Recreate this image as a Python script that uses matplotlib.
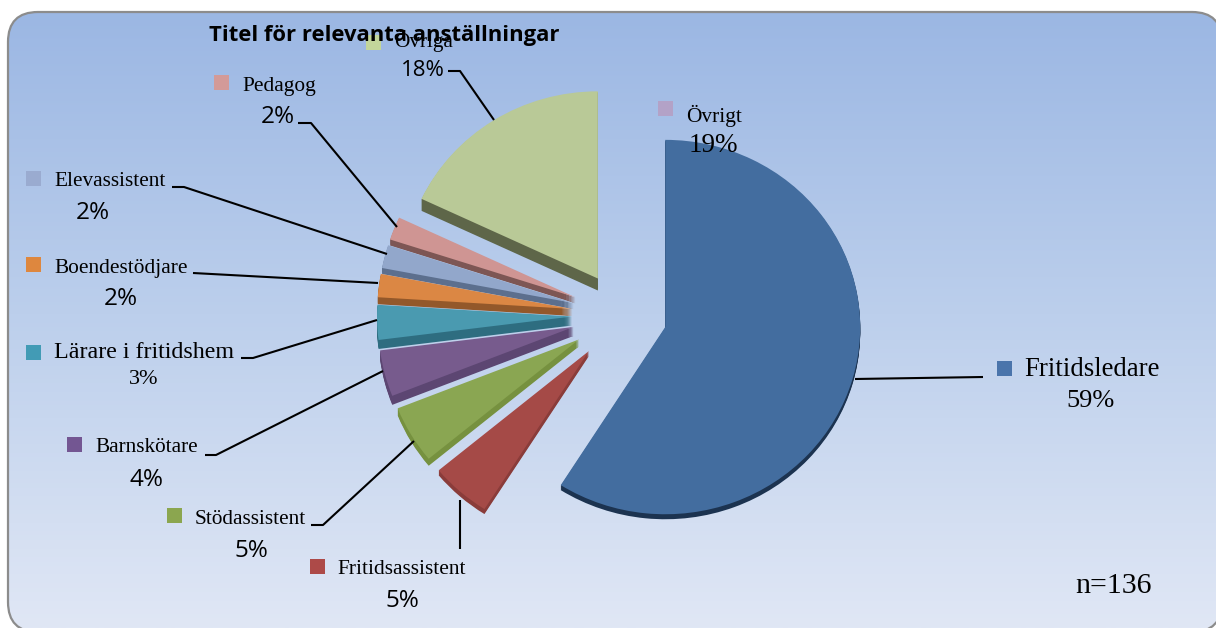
import numpy as np
import matplotlib
matplotlib.use("Agg")
import matplotlib.pyplot as plt
from matplotlib.patches import FancyBboxPatch, Polygon, Rectangle
from matplotlib.transforms import Affine2D

W, H = 1216, 628

# data
categories = ["Fritidsledare", "Fritidsassistent", "Stödassistent", "Barnskötare",
              "Lärare i fritidshem", "Boendestödjare", "Elevassistent", "Pedagog", "Övriga"]
values = [59, 5, 5, 4, 3, 2, 2, 2, 18]
extra_label = "Övrigt"
extra_value = 19
n_text = "n=136"
title = "Titel för relevanta anställningar"

# styles
top_colors = ["#436d9f", "#a54a47", "#8aa652", "#775b8d", "#4a9ab0", "#db8744", "#92a7cb", "#cf9593", "#b9c997"]
side_colors = ["#1c3350", "#8a3c3a", "#76913f", "#5c4672", "#2e6d80", "#93582a", "#5c6f8e", "#7d5654", "#5e6649"]
key_colors = ["#4a74ab", "#ad4a48", "#8ba64f", "#735692", "#429bb5", "#de873e", "#9aabd0", "#d39a98", "#c3d69b"]
depths = [5, 5, 7, 9, 9, 7, 6, 6, 12]

# label layout in pixels, y from the top: key x, key y, text x, text y, pct x, pct y, pct font, text size, pct size
layout = [
    (997, 361, 1024, 369, 1091, 401, "serif", 19.3, 19),
    (310, 559, 337, 569, 402, 601, "sans", 15.4, 17.5),
    (167, 508, 195, 519, 251, 551, "sans", 15.3, 17.5),
    (67, 437, 95, 448, 146, 480, "sans", 15.3, 17.5),
    (26, 345, 54, 353, 144, 380, "serif", 17.3, 16),
    (26, 257, 54, 268, 121, 299, "sans", 15.4, 17.5),
    (26, 171, 54, 182, 93, 213, "sans", 15.3, 17.5),
    (214, 75, 242, 86, 278, 117, "sans", 15.4, 17.5),
    (366, 35, 394, 41, 423, 71, "sans", 15.3, 16),
]
leaders = [
    [(855, 379), (983, 377)],
    [(460, 500), (460, 549)],
    [(311, 525), (323, 525), (414, 441)],
    [(205, 455), (216, 455), (383, 371)],
    [(241, 358), (253, 358), (377, 320)],
    [(193, 273), (378, 283)],
    [(172, 187), (184, 187), (387, 254)],
    [(298, 123), (311, 123), (397, 227)],
    [(448, 71), (460, 71), (494, 120)],
]

SERIF = "Liberation Serif"
SANS = "Open Sans"


def fy(py):
    return H - py


fig = plt.figure(figsize=(W / 100, H / 100), dpi=100, facecolor="white")
ax = fig.add_axes([0, 0, 1, 1])

# pie first, it resets limits and aspect
center = (622, fy(315))
radius = 195
y_squash = 0.96
explode = [45, 50, 50, 50, 50, 50, 50, 50, 45]  # pie adds this in data units


def squash_about(cy):
    return Affine2D().translate(0, -cy).scale(1, y_squash).translate(0, cy) + ax.transData


for shift in range(max(depths), 0, -1):
    wedges, _ = ax.pie(values, explode=explode, colors=side_colors, startangle=90, counterclock=False,
                       center=(center[0], center[1] - shift), radius=radius, frame=True)
    for wedge, d in zip(wedges, depths):
        wedge.set_visible(shift <= d)
        wedge.set_zorder(3)
        wedge.set_transform(squash_about(center[1] - shift))

wedges, _ = ax.pie(values, explode=explode, colors=top_colors, startangle=90, counterclock=False,
                   center=center, radius=radius, frame=True)
for wedge in wedges:
    wedge.set_zorder(4)
    wedge.set_transform(squash_about(center[1]))

ax.set_aspect("auto")
ax.set_xlim(0, W)
ax.set_ylim(0, H)
ax.set_xticks([])
ax.set_yticks([])
for s in ax.spines.values():
    s.set_visible(False)

# background panel with vertical gradient, flattened to a polygon because the
# curved outline draws badly where it runs off the canvas
box = FancyBboxPatch((20, fy(620)), 1190, 596, boxstyle="round,pad=12,rounding_size=30")
panel = Polygon(box.get_path().to_polygons()[0], closed=True, facecolor="none", edgecolor="#8c8c8c",
                linewidth=1.6, zorder=2, clip_on=False)
ax.add_patch(panel)
grad = np.linspace(0, 1, 256).reshape(-1, 1)
cmap = matplotlib.colors.LinearSegmentedColormap.from_list("bg", ["#9ab6e3", "#bccfec", "#e0e7f5"])
img = ax.imshow(grad, extent=(0, W, 0, H), origin="upper", cmap=cmap, aspect="auto", zorder=1)
img.set_clip_path(panel)

# leader lines
for pts in leaders:
    xs = [p[0] for p in pts]
    ys = [fy(p[1]) for p in pts]
    ax.plot(xs, ys, color="black", lw=1.5, zorder=5, solid_capstyle="butt")

# labels
for i, name in enumerate(categories):
    kx, ky, tx, ty, px, py, pfont, tsize, psize = layout[i]
    ax.add_patch(Rectangle((kx, fy(ky) - 15), 15, 15, facecolor=key_colors[i], edgecolor="none", zorder=6))
    ax.text(tx, fy(ty), name, family=SERIF, fontsize=tsize, ha="left", va="center", color="black", zorder=7)
    ax.text(px, fy(py), f"{values[i]}%", family=SERIF if pfont == "serif" else SANS, fontsize=psize,
            ha="center", va="center", color="black", zorder=7)

# stray label with no slice
ax.add_patch(Rectangle((658, fy(101) - 15), 15, 15, facecolor="#b3a2c7", edgecolor="none", zorder=6))
ax.text(686, fy(116), extra_label, family=SERIF, fontsize=15.4, ha="left", va="center", zorder=7)
ax.text(713, fy(146), f"{extra_value}%", family=SERIF, fontsize=19.5, ha="center", va="center", zorder=7)

ax.text(1114, fy(586), n_text, family=SERIF, fontsize=21.5, ha="center", va="center", zorder=7)
ax.text(384, fy(36), title, family=SANS, fontsize=15.8, fontweight="bold", ha="center", va="center", zorder=8)

fig.savefig("out.png", dpi=100)
